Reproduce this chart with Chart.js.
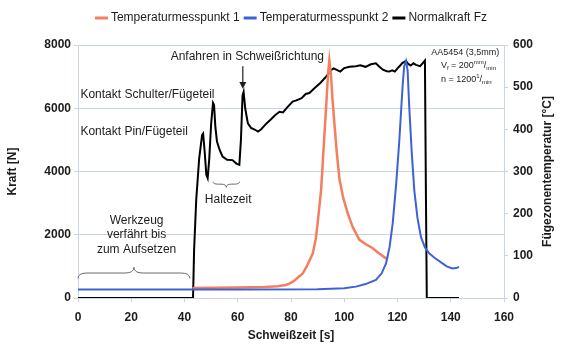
<!DOCTYPE html>
<html>
<head>
<meta charset="utf-8">
<script src="https://cdn.jsdelivr.net/npm/chart.js@4/dist/chart.umd.min.js"></script>
<style>
  html, body { margin: 0; padding: 0; background: #fff; }
  #wrap { width: 561px; height: 347px; }
</style>
</head>
<body>
<div id="wrap"><canvas id="c" width="561" height="347"></canvas></div>
<script>
// Normalkraft Fz [N] over Schweißzeit [s]
const timeFz = [0, 43.2, 43.6, 44.4, 45.5, 46.6, 47.0, 47.6, 48.2, 48.7, 49.3, 50.0, 50.7, 51.1, 51.6, 52.2, 53.2, 54.3, 56.0, 58.0, 59.5, 60.6, 61.2, 61.8, 62.2, 62.8, 63.8, 65.0, 66.5, 67.6, 68.7, 70.8, 72.5, 74.0, 75.7, 77.0, 78.5, 80.6, 82.0, 84.0, 85.5, 86.9, 89.0, 91.0, 93.2, 95.0, 96.0, 97.0, 98.5, 100.0, 102.0, 104.4, 106.0, 108.0, 110.0, 111.9, 113.0, 114.5, 116.0, 116.9, 118.0, 119.0, 120.0, 121.0, 121.8, 123.2, 124.0, 125.0, 126.0, 126.9, 128.5, 129.5, 130.3, 130.7, 131.0, 143.1];
const forceFz = [0, 0, 1500, 3100, 4400, 5150, 5200, 4600, 3900, 3790, 4400, 5500, 6170, 6100, 5400, 4950, 4680, 4470, 4370, 4360, 4250, 4210, 5000, 6400, 6520, 6000, 5520, 5380, 5320, 5260, 5330, 5520, 5650, 5780, 5890, 5870, 6020, 6210, 6250, 6320, 6450, 6480, 6650, 6800, 7000, 7200, 7260, 7220, 7160, 7270, 7310, 7330, 7360, 7310, 7390, 7420, 7330, 7220, 7170, 7160, 7200, 7160, 7260, 7350, 7430, 7500, 7400, 7350, 7420, 7370, 7330, 7430, 7510, 3000, 0, 0];

// Temperaturmesspunkt 1 [°C]
const timeT1 = [43.0, 60.0, 70.0, 75.0, 78.0, 79.4, 81.0, 82.5, 84.4, 86.0, 88.2, 89.3, 90.0, 91.3, 92.2, 93.2, 93.9, 94.4, 95.0, 95.6, 96.3, 97.2, 98.2, 99.6, 101.3, 103.2, 105.7, 108.0, 110.7, 113.0, 115.7, 116.3];
const tempT1 = [24, 25, 26, 28, 31, 34, 40, 48, 58, 76, 106, 140, 177, 256, 350, 454, 530, 564, 530, 470, 414, 345, 282, 238, 201, 168, 138, 128, 118, 106, 94, 91];

// Temperaturmesspunkt 2 [°C]
const timeT2 = [0, 60.0, 90.0, 100.0, 104.4, 108.0, 111.9, 114.0, 115.7, 117.0, 118.2, 119.5, 120.7, 121.9, 122.5, 123.2, 123.8, 124.4, 125.3, 126.3, 127.5, 128.8, 130.3, 131.9, 134.0, 136.9, 138.5, 140.6, 142.0, 143.1];
const tempT2 = [20, 20, 21, 23, 27, 33, 43, 58, 82, 120, 177, 270, 375, 501, 549, 562, 540, 454, 350, 256, 190, 145, 120, 106, 95, 82, 75, 70, 71, 74];

// Tick labels
const timeTicks = [0, 20, 40, 60, 80, 100, 120, 140, 160];
const forceTicks = [0, 2000, 4000, 6000, 8000];
const tempTicks = [0, 100, 200, 300, 400, 500, 600];

const seriesNames = ['Temperaturmesspunkt 1', 'Temperaturmesspunkt 2', 'Normalkraft Fz'];

// Explanatory labels, anchored in data units (s, N)
const notes = [
  { text: 'Anfahren in Schweißrichtung', x: 63.6, y: 7620, align: 'center' },
  { text: 'Kontakt Schulter/Fügeteil', x: 0.9, y: 6440, align: 'left' },
  { text: 'Kontakt Pin/Fügeteil', x: 0.9, y: 5250, align: 'left' },
  { text: 'Haltezeit', x: 56.4, y: 3100, align: 'center' },
  { text: 'Werkzeug', x: 22, y: 2450, align: 'center' },
  { text: 'verfährt bis', x: 22, y: 1990, align: 'center' },
  { text: 'zum Aufsetzen', x: 22, y: 1520, align: 'center' }
];

const FONT = "'Liberation Sans', Arial, sans-serif";
const ORANGE = '#f37f5f';
const BLUE = '#3d62d6';
const GRID = '#c9d5e2';
const TEXT = '#1c1c1c';

const pts = (xs, ys) => xs.map((x, i) => ({ x: x, y: ys[i] }));

function brace(ctx, x1, x2, yEnd, yArm, yTip) {
  const xm = (x1 + x2) / 2;
  const r = Math.min(9, (x2 - x1) / 5);
  ctx.beginPath();
  ctx.moveTo(x1, yEnd);
  ctx.quadraticCurveTo(x1, yArm, x1 + r, yArm);
  ctx.lineTo(xm - r, yArm);
  ctx.quadraticCurveTo(xm, yArm, xm, yTip);
  ctx.quadraticCurveTo(xm, yArm, xm + r, yArm);
  ctx.lineTo(x2 - r, yArm);
  ctx.quadraticCurveTo(x2, yArm, x2, yEnd);
  ctx.stroke();
}

const annotate = {
  id: 'annotate',
  afterDraw(chart) {
    const ctx = chart.ctx;
    const xs = chart.scales.x, ys = chart.scales.y;
    const X = v => xs.getPixelForValue(v), Y = v => ys.getPixelForValue(v);
    ctx.save();
    ctx.fillStyle = TEXT;
    ctx.textBaseline = 'middle';

    // text labels
    ctx.font = '12px ' + FONT;
    notes.forEach(n => {
      ctx.textAlign = n.align;
      ctx.fillText(n.text, X(n.x), Y(n.y));
    });

    // arrow onto the third force peak
    const ax = X(61.9);
    ctx.strokeStyle = TEXT;
    ctx.lineWidth = 1.2;
    ctx.beginPath();
    ctx.moveTo(ax, Y(7330));
    ctx.lineTo(ax, Y(6800));
    ctx.stroke();
    ctx.beginPath();
    ctx.moveTo(ax - 3.5, Y(6830));
    ctx.lineTo(ax + 3.5, Y(6830));
    ctx.lineTo(ax, Y(6620));
    ctx.closePath();
    ctx.fill();

    // braces
    ctx.strokeStyle = '#6a6a6a';
    ctx.lineWidth = 1;
    brace(ctx, X(50.7), X(60.7), Y(3680), Y(3600), Y(3500));
    brace(ctx, X(0), X(42), Y(620), Y(790), Y(970));

    // process parameters
    ctx.font = '9px ' + FONT;
    ctx.textAlign = 'left';
    const px = X(132.7);
    ctx.fillText('AA5454 (3,5mm)', px, Y(7770));
    const put = (s, x, y, f) => { ctx.font = f + 'px ' + FONT; ctx.fillText(s, x, y); return x + ctx.measureText(s).width; };
    let cx = X(136.3), cy = Y(7350);
    cx = put('V', cx, cy, 9);
    cx = put('f', cx, cy + 3, 6);
    cx = put(' = 200', cx, cy, 9);
    cx = put('mm', cx, cy - 3, 6);
    cx = put('/', cx, cy, 9);
    put('min', cx, cy + 3, 6);
    cx = X(136.3); cy = Y(6900);
    cx = put('n = 1200', cx, cy, 9);
    cx = put('1', cx, cy - 3, 6);
    cx = put('/', cx, cy, 9);
    put('min', cx, cy + 3, 6);

    // right axis title
    const yr = chart.scales.y1;
    ctx.font = 'bold 12px ' + FONT;
    ctx.textAlign = 'center';
    ctx.translate(548, (yr.top + yr.bottom) / 2);
    ctx.rotate(-Math.PI / 2);
    ctx.fillText('Fügezonentemperatur [°C]', 0, 0);
    ctx.restore();

    // legend
    ctx.save();
    ctx.font = '12px ' + FONT;
    ctx.textBaseline = 'middle';
    ctx.textAlign = 'left';
    const items = chart.data.datasets;
    const lineLen = 13, gapA = 3, gapB = 4;
    let total = 0;
    items.forEach((d, i) => {
      total += lineLen + gapA + ctx.measureText(d.label).width + (i < items.length - 1 ? gapB : 0);
    });
    let lx = (chart.chartArea.left + chart.chartArea.right) / 2 - total / 2;
    const ly = 18;
    items.forEach(d => {
      ctx.strokeStyle = d.borderColor;
      ctx.lineWidth = 3;
      ctx.beginPath();
      ctx.moveTo(lx, ly);
      ctx.lineTo(lx + lineLen, ly);
      ctx.stroke();
      lx += lineLen + gapA;
      ctx.fillStyle = TEXT;
      ctx.fillText(d.label, lx, ly);
      lx += ctx.measureText(d.label).width + gapB;
    });
    ctx.restore();
  }
};

const tickFont = { family: FONT, size: 12, weight: 'bold' };
const plain = v => String(v);

new Chart(document.getElementById('c'), {
  type: 'line',
  data: {
    datasets: [
      { label: seriesNames[0], data: pts(timeT1, tempT1), yAxisID: 'y1', borderColor: ORANGE, borderWidth: 2.5, order: 1 },
      { label: seriesNames[1], data: pts(timeT2, tempT2), yAxisID: 'y1', borderColor: BLUE, borderWidth: 2, order: 0 },
      { label: seriesNames[2], data: pts(timeFz, forceFz), yAxisID: 'y', borderColor: '#000000', borderWidth: 2, order: 2 }
    ]
  },
  options: {
    responsive: false,
    devicePixelRatio: 1,
    animation: false,
    layout: { padding: { top: 45, left: 0, right: 0, bottom: 0 } },
    elements: { point: { radius: 0 }, line: { tension: 0 } },
    plugins: { legend: { display: false }, tooltip: { enabled: false } },
    scales: {
      x: {
        type: 'linear', min: 0, max: 160,
        afterBuildTicks: s => { s.ticks = timeTicks.map(v => ({ value: v })); },
        afterFit: s => { s.height = 49; },
        ticks: { font: tickFont, color: TEXT, padding: 8, maxRotation: 0, callback: plain },
        grid: { drawOnChartArea: false, drawTicks: true, tickLength: 4, color: GRID },
        border: { display: true, color: GRID },
        title: { display: true, text: 'Schweißzeit [s]', font: { family: FONT, size: 12, weight: 'bold' }, color: TEXT, padding: { top: 0, bottom: 4 } }
      },
      y: {
        position: 'left', min: 0, max: 8000,
        afterBuildTicks: s => { s.ticks = forceTicks.map(v => ({ value: v })); },
        afterFit: s => { s.width = 78; },
        ticks: { font: tickFont, color: TEXT, padding: 3, callback: plain },
        grid: { color: GRID, tickLength: 4, lineWidth: 1 },
        border: { display: true, color: GRID },
        title: { display: true, text: 'Kraft [N]', font: { family: FONT, size: 12, weight: 'bold' }, color: TEXT, padding: { top: 5, bottom: 0 } }
      },
      y1: {
        position: 'right', min: 0, max: 600,
        afterBuildTicks: s => { s.ticks = tempTicks.map(v => ({ value: v })); },
        afterFit: s => { s.width = 57; },
        ticks: { font: tickFont, color: TEXT, padding: 5, callback: plain },
        grid: { drawOnChartArea: false, tickLength: 4, color: GRID },
        border: { display: true, color: GRID }
      }
    }
  },
  plugins: [annotate]
});
</script>
</body>
</html>
